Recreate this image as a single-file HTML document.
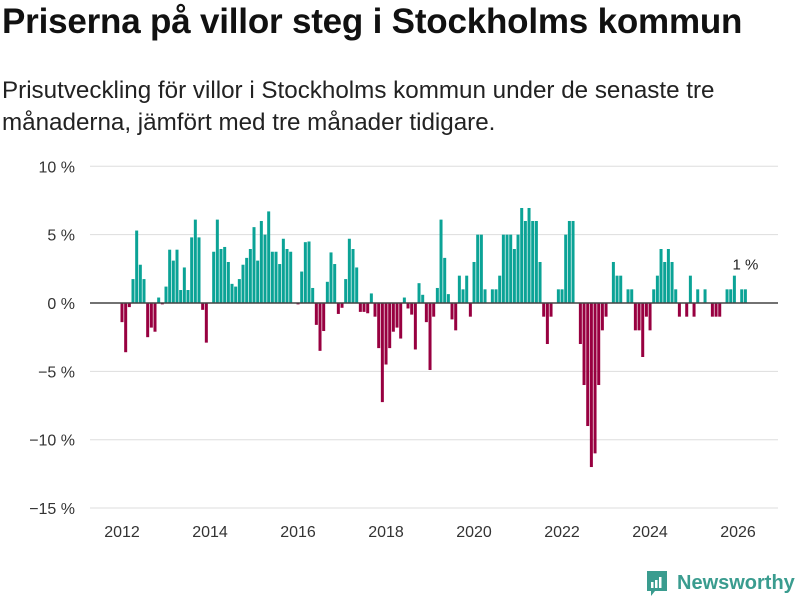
<!DOCTYPE html>
<html><head><meta charset="utf-8">
<style>
body{margin:0;background:#fff;width:800px;height:600px;overflow:hidden;font-family:"Liberation Sans","DejaVu Sans",sans-serif;}
#title{position:absolute;left:2px;top:2px;font-size:35px;font-weight:bold;color:#111;margin:0;letter-spacing:-0.2px;white-space:nowrap}
#sub{position:absolute;left:2px;top:75px;font-size:24.2px;color:#222;line-height:32px;margin:0;width:798px;white-space:nowrap}
svg{position:absolute;left:0;top:0}
</style></head><body>
<h1 id="title">Priserna på villor steg i Stockholms kommun</h1>
<p id="sub">Prisutveckling för villor i Stockholms kommun under de senaste tre<br>månaderna, jämfört med tre månader tidigare.</p>
<svg id="chart" width="800" height="600"></svg>
<script>
const yTicks=[10,5,0,-5,-10,-15];
const yTickLabels=["10 %","5 %","0 %","−5 %","−10 %","−15 %"];
const xYears=[2012,2014,2016,2018,2020,2022,2024,2026];
const startYear=2012;
const values=[-1.4,-3.6,-0.3,1.75,5.3,2.8,1.75,-2.5,-1.8,-2.1,0.4,-0.1,
1.2,3.9,3.1,3.9,0.95,2.6,0.95,4.8,6.1,4.8,-0.5,-2.9,
0,3.75,6.1,3.95,4.1,3.0,1.4,1.2,1.75,2.8,3.3,3.95,
5.55,3.1,6.0,5.0,6.7,3.75,3.75,2.85,4.7,3.95,3.75,0,
-0.1,2.3,4.45,4.5,1.1,-1.6,-3.5,-2.05,1.55,3.7,2.85,-0.8,
-0.35,1.75,4.7,3.95,2.6,-0.65,-0.65,-0.75,0.7,-1.0,-3.3,-7.25,
-4.5,-3.3,-2.1,-1.8,-2.6,0.4,-0.4,-0.85,-3.4,1.45,0.6,-1.4,
-4.9,-1.0,1.1,6.1,3.3,0.65,-1.2,-2.0,2.0,1.0,2.0,-1.0,
3.0,5.0,5.0,1.0,0,1.0,1.0,2.0,5.0,5.0,5.0,3.95,
5.0,6.95,6.0,6.95,6.0,6.0,3.0,-1.0,-3.0,-1.0,0,1.0,
1.0,5.0,6.0,6.0,0,-3.0,-6.0,-9.0,-12.0,-11.0,-6.0,-2.0,
-1.0,0,3.0,2.0,2.0,0,1.0,1.0,-2.0,-2.0,-3.95,-1.0,
-2.0,1.0,2.0,3.95,3.0,3.95,3.0,1.0,-1.0,0,-1.0,2.0,
-1.0,1.0,0,1.0,0,-1.0,-1.0,-1.0,0,1.0,1.0,2.0,
0,1.0,1.0];
const lastLabel="1 %";

const NS="http://www.w3.org/2000/svg";
const svg=document.getElementById('chart');
const y=v=>303-v*13.67;
const xm=i=>122+i*3.667;
const xyear=yr=>122+(yr-startYear)*44;
function mk(t,a){const e=document.createElementNS(NS,t);for(const k in a)e.setAttribute(k,a[k]);svg.appendChild(e);return e;}
yTicks.forEach((t,k)=>{
  if(t!==0){const g=mk('line',{x1:90,x2:778,y1:y(t),y2:y(t),stroke:'#dddddd','stroke-width':1});
  
  }
  const tx=mk('text',{x:75,y:y(t)+6,'text-anchor':'end','font-size':16,fill:'#333'});
  tx.textContent=yTickLabels[k];
  
  
});
xYears.forEach(yr=>{
  const tx=mk('text',{x:xyear(yr),y:537,'text-anchor':'middle','font-size':16,fill:'#333'});
  tx.textContent=yr;
  
  
});
values.forEach((v,i)=>{
  if(v===0)return;
  const top=Math.min(y(v),y(0)),h=Math.abs(y(v)-y(0));
  const r=mk('rect',{x:xm(i)-1.5,y:top,width:3,height:h,fill:v>0?'#0ba396':'#980040'});
  
  
});
const z=mk('line',{x1:90,x2:778,y1:y(0),y2:y(0),stroke:'#444','stroke-width':1.6});


const li=values.length-1;
const lab=mk('text',{x:xm(li),y:y(values[li])-20,'text-anchor':'middle','font-size':15,fill:'#222'});
lab.textContent=lastLabel;


</script>
<div style="position:absolute;left:645px;top:569px;display:flex;align-items:center">
<svg width="24" height="28" viewBox="0 0 24 28" style="position:static"><path d="M2 2h20v20H10l-4 5v-5H2z" fill="#3a9c8f"/><rect x="6" y="13" width="2.5" height="6" fill="#fff"/><rect x="10" y="11" width="2.5" height="8" fill="#fff"/><rect x="14" y="8" width="2.5" height="11" fill="#fff"/></svg>
<span style="margin-left:8px;font-size:20px;color:#3a9c8f;font-weight:bold">Newsworthy</span>
</div>
</body></html>
